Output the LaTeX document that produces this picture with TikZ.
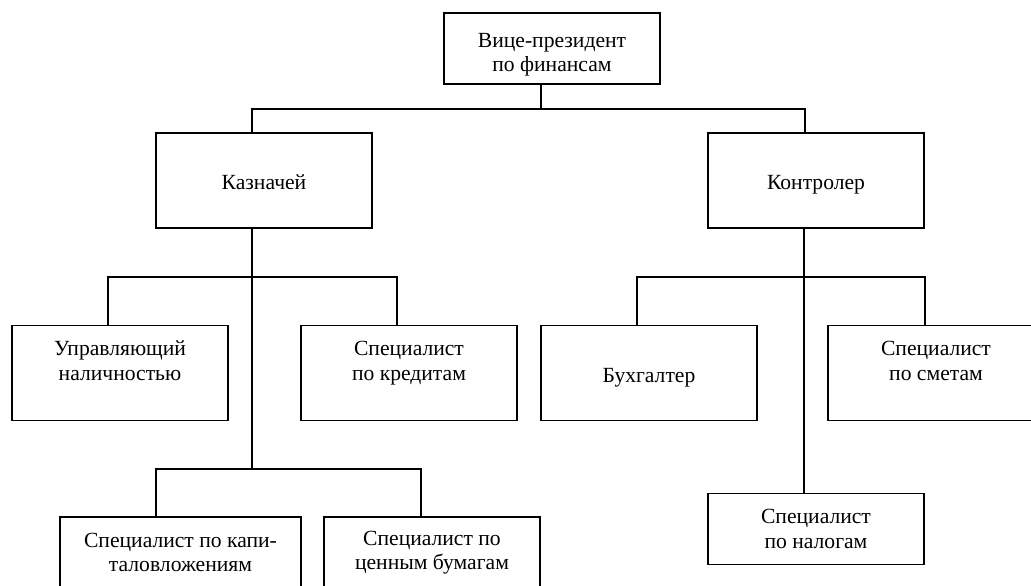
\documentclass[tikz,border=0pt]{standalone}
\usepackage{fontspec}
\setmainfont{Liberation Serif}
\usetikzlibrary{positioning}

\begin{document}
\begin{tikzpicture}[x=0.02cm,y=-0.02cm]
\tikzset{
  orgbox/.style={rectangle,draw,line width=1pt,minimum width=4.32cm,inner sep=2pt,align=center,font=\fontsize{12.3pt}{14pt}\selectfont},
  lowbox/.style={orgbox,minimum height=1.42cm},
  highbox/.style={orgbox,minimum height=1.9cm},
  onebox/.style={highbox,text height=10.6pt,text depth=0pt},
  orgline/.style={line width=1pt}
}
\useasboundingbox (0,0) rectangle (1031,585);
\node[lowbox] (n_vp) at (552,48.5) {\rule{0pt}{15pt}Вице-президент\\по финансам};
\node[onebox] (n_kazn) at (264,180.5) {Казначей};
\node[onebox] (n_kontr) at (816,180.5) {Контролер};
\node[highbox] (n_upr) at (120,373) {Управляющий\\наличностью\\\mbox{}};
\node[highbox] (n_kred) at (409,373) {Специалист\\по кредитам\\\mbox{}};
\node[onebox] (n_bukh) at (649,373) {Бухгалтер};
\node[highbox] (n_smet) at (936,373) {Специалист\\по сметам\\\mbox{}};
\node[lowbox,minimum width=4.82cm] (n_kap) at (180.5,552.5) {Специалист по капи-\\таловложениям};
\node[lowbox] (n_cen) at (432,552.5) {Специалист по\\ценным бумагам};
\node[lowbox] (n_nalog) at (816,529) {Специалист\\по налогам};
\draw[orgline] ([xshift=-0.22cm]n_vp.south) -- ++(0,24) -| ([xshift=-0.24cm]n_kazn.north);
\draw[orgline] ([xshift=-0.22cm]n_vp.south) -- ++(0,24) -| ([xshift=-0.22cm]n_kontr.north);
\draw[orgline] ([xshift=-0.24cm]n_kazn.south) -- ++(0,48) -| ([xshift=-0.24cm]n_upr.north);
\draw[orgline] ([xshift=-0.24cm]n_kazn.south) -- ++(0,48) -| ([xshift=-0.24cm]n_kred.north);
\draw[orgline] ([xshift=-0.24cm]n_kazn.south) -- ++(0,240) -| ([xshift=-0.49cm]n_kap.north);
\draw[orgline] ([xshift=-0.24cm]n_kazn.south) -- ++(0,240) -| ([xshift=-0.22cm]n_cen.north);
\draw[orgline] ([xshift=-0.24cm]n_kontr.south) -- ++(0,48) -| ([xshift=-0.24cm]n_bukh.north);
\draw[orgline] ([xshift=-0.24cm]n_kontr.south) -- ++(0,48) -| ([xshift=-0.22cm]n_smet.north);
\draw[orgline] ([xshift=-0.24cm]n_kontr.south) -- ([xshift=-0.24cm]n_nalog.north);
\end{tikzpicture}
\end{document}
